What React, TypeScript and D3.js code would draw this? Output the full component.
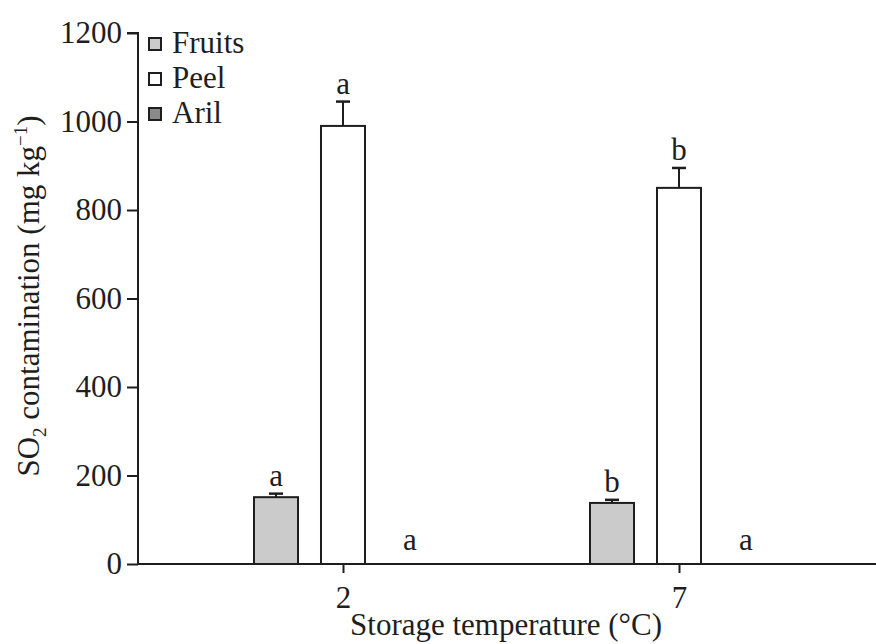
import { useEffect, useRef } from 'react';
import * as d3 from 'd3';

// storage temperatures (°C) and tissue series
const temps = ['2', '7'];
const tissues = ['Fruits', 'Peel', 'Aril'];
const fruitsMean = [151, 138];
const fruitsErr = [8, 7];
const peelMean = [990, 850];
const peelErr = [55, 45];
const arilMean = [0, 0];
const arilErr = [0, 0];
const fruitsLetters = ['a', 'b'];
const peelLetters = ['a', 'b'];
const arilLetters = ['a', 'a'];
const yTicks = [0, 200, 400, 600, 800, 1000, 1200];

const fills: Record<string, string> = { Fruits: '#cbcbcb', Peel: '#ffffff', Aril: '#8a8a8a' };
const FONT = '"Liberation Serif", "Times New Roman", serif';
const FS = 31;

export default function App() {
  const ref = useRef<SVGSVGElement>(null);

  useEffect(() => {
    const W = 876, H = 644;
    const svg = d3.select(ref.current);
    svg.selectAll('*').remove();
    svg.attr('width', W).attr('height', H);

    const rows = temps.map((t, i) => ({
      temp: t,
      bars: [
        { key: 'Fruits', v: fruitsMean[i], e: fruitsErr[i], l: fruitsLetters[i] },
        { key: 'Peel', v: peelMean[i], e: peelErr[i], l: peelLetters[i] },
        { key: 'Aril', v: arilMean[i], e: arilErr[i], l: arilLetters[i] },
      ],
    }));

    const left = 138, bottom = 564, top = 33;
    const y = d3.scaleLinear().domain([0, 1200]).range([bottom, top]);
    const x = d3.scalePoint<string>().domain(temps).range([343, 679]);
    const xi = d3.scaleBand<string>().domain(tissues).range([-89, 89]).paddingInner(0.343).paddingOuter(0);

    const ink = '#1e1e1e';

    // ── 막대 ──
    const grp = svg.append('g').selectAll('g').data(rows).join('g')
      .attr('transform', d => `translate(${x(d.temp)},0)`);

    const bar = grp.selectAll('g').data(d => d.bars).join('g');
    const cx = (k: string) => xi(k)! + xi.bandwidth() / 2;

    bar.filter(d => d.v > 0).append('rect')
      .attr('x', d => xi(d.key)!)
      .attr('y', d => y(d.v))
      .attr('width', xi.bandwidth())
      .attr('height', d => y(0) - y(d.v))
      .attr('fill', d => fills[d.key])
      .attr('stroke', ink).attr('stroke-width', 2);

    // error bars
    const cap = 7;
    const eb = bar.filter(d => d.e > 0);
    eb.append('line')
      .attr('x1', d => cx(d.key)).attr('x2', d => cx(d.key))
      .attr('y1', d => y(d.v)).attr('y2', d => y(d.v + d.e))
      .attr('stroke', ink).attr('stroke-width', 2);
    eb.append('line')
      .attr('x1', d => cx(d.key) - cap).attr('x2', d => cx(d.key) + cap)
      .attr('y1', d => y(d.v + d.e)).attr('y2', d => y(d.v + d.e))
      .attr('stroke', ink).attr('stroke-width', 2.5);

    // significance letters
    bar.append('text')
      .attr('x', d => cx(d.key))
      .attr('y', d => y(d.v + d.e) - (d.v > 0 ? 8 : 14))
      .attr('text-anchor', 'middle')
      .attr('font-family', FONT).attr('font-size', FS).attr('fill', ink)
      .text(d => d.l);

    // ── 축 ──
    const yAxis = svg.append('g').attr('transform', `translate(${left},0)`)
      .call(d3.axisLeft(y).tickValues(yTicks).tickSize(11).tickPadding(5).tickFormat(d3.format('d')));
    yAxis.select('.domain').attr('d', `M0,${bottom}V${top}H-11`).attr('stroke', ink).attr('stroke-width', 2);
    yAxis.selectAll('.tick line').attr('stroke', ink).attr('stroke-width', 2);
    yAxis.selectAll('.tick text').attr('font-family', FONT).attr('font-size', FS).attr('fill', ink);

    const xAxis = svg.append('g').attr('transform', `translate(0,${bottom})`)
      .call(d3.axisBottom(x).tickSize(9).tickPadding(13));
    xAxis.select('.domain').attr('d', `M${left},0H${W}`).attr('stroke', ink).attr('stroke-width', 2);
    xAxis.selectAll('.tick line').attr('stroke', ink).attr('stroke-width', 2);
    xAxis.selectAll('.tick text').attr('font-family', FONT).attr('font-size', FS).attr('fill', ink);

    // axis titles
    svg.append('text')
      .attr('x', 506).attr('y', 635).attr('text-anchor', 'middle')
      .attr('font-family', FONT).attr('font-size', FS).attr('fill', ink)
      .text('Storage temperature (°C)');

    const yl = svg.append('text')
      .attr('transform', `translate(39,296) rotate(-90)`)
      .attr('text-anchor', 'middle')
      .attr('font-family', FONT).attr('font-size', FS).attr('fill', ink);
    yl.append('tspan').text('SO');
    yl.append('tspan').attr('font-size', 19).attr('dy', 7).text('2');
    yl.append('tspan').attr('dy', -7).text(' contamination (mg kg');
    yl.append('tspan').attr('font-size', 19).attr('dy', -12).text('−1');
    yl.append('tspan').attr('dy', 12).text(')');

    // ── 범례 ──
    const leg = svg.append('g').selectAll('g').data(tissues).join('g')
      .attr('transform', (_d, i) => `translate(149,${38 + i * 35})`);
    leg.append('rect').attr('width', 12).attr('height', 12)
      .attr('fill', d => fills[d]).attr('stroke', ink).attr('stroke-width', 2);
    leg.append('text').attr('x', 23).attr('y', 15)
      .attr('font-family', FONT).attr('font-size', FS).attr('fill', ink)
      .text(d => d);
  }, []);

  return <svg ref={ref} style={{ position: 'absolute', left: 0, top: 0, background: '#fff' }} />;
}
